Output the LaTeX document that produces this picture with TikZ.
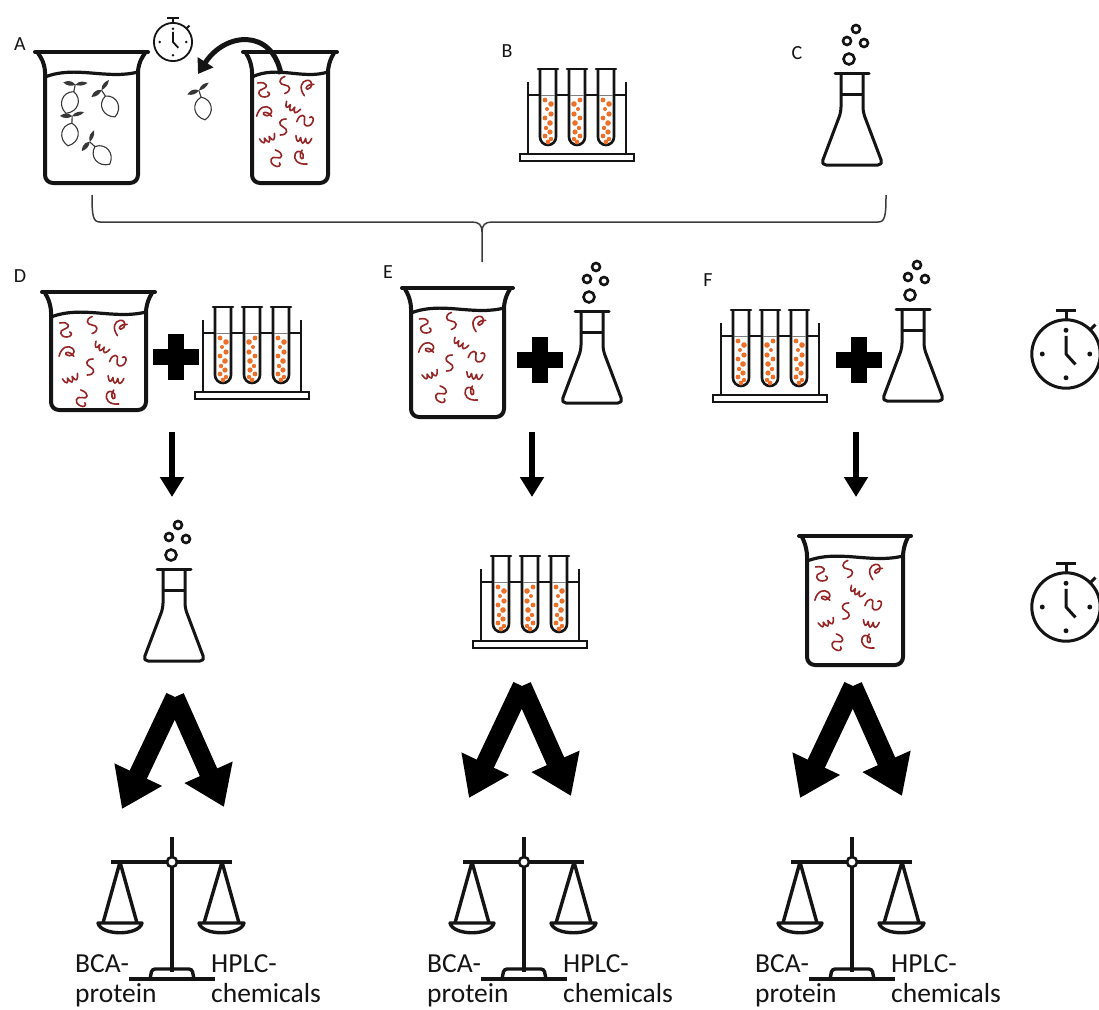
\documentclass[tikz,border=0pt]{standalone}
\usepackage{fontspec}
\setmainfont{Carlito}
\usetikzlibrary{arrows.meta}

\definecolor{ink}{RGB}{20,20,20}
\definecolor{wormred}{RGB}{150,38,38}
\definecolor{dotorange}{RGB}{236,112,40}
\definecolor{bracegray}{RGB}{60,60,60}

\tikzset{
  glass/.style={draw=ink, line width=4, line join=round},
  rackln/.style={draw=ink, line width=2.6},
  flaskln/.style={draw=ink, line width=3, line join=round},
  wormln/.style={draw=wormred, line width=1.6, line cap=round, line join=round},
  seedln/.style={draw=ink!85, line width=1.1},
  scaleln/.style={draw=ink, line width=3.4},
  brace/.style={draw=bracegray, line width=1.5},
  bigarrow/.style={draw=black, line width=19, -{Triangle[length=38, width=50]}},
  downarrow/.style={draw=black, line width=6.5, -{Triangle[length=20, width=23]}},
  lbl/.style={font=\fontsize{20}{24}\selectfont, inner sep=0pt, text=ink},
  sclbl/.style={font=\fontsize{27.5}{32}\selectfont, inner sep=0pt, text=ink, anchor=base west},
  pics/wa/.style={code={\draw[wormln] (-6,-7) .. controls (4,-9) and (5,-2) .. (-1,-1) .. controls (-7,0) and (-6,7) .. (1,7) .. controls (6,7) and (7,3) .. (4,2);}},
  pics/wb/.style={code={\draw[wormln] (-7,6) .. controls (-8,-4) and (-2,-8) .. (3,-6) .. controls (9,-3) and (4,4) .. (-1,2) .. controls (-4,0) and (2,-3) .. (7,1);}},
  pics/wc/.style={code={\draw[wormln] (-8,-2) .. controls (-6,5) and (-4,5) .. (-3,-1) .. controls (-1,6) and (1,6) .. (2,-1) .. controls (4,6) and (6,5) .. (8,-2);}},
  pics/wd/.style={code={\draw[wormln] (3,-8) .. controls (-5,-8) and (-5,-2) .. (0,0) .. controls (5,2) and (5,8) .. (-3,8);}},
  pics/seed/.style={code={
    \draw[seedln] (0,-11) .. controls (-11,-7) and (-11,7) .. (0,12) .. controls (11,7) and (11,-7) .. (0,-11);
    \draw[seedln] (0,-11) -- (-1,-18);
    \fill[ink!85] (-1,-18) .. controls (-7,-22) and (-11,-18) .. (-13,-16) .. controls (-8,-14) and (-4,-15) .. (-1,-18);
    \fill[ink!85] (-1,-18) .. controls (2,-24) and (6,-24) .. (10,-24) .. controls (7,-19) and (2,-18) .. (-1,-18);
  }}
}

% beaker: rim top-left x, rim y, rim width, wall inset, height
\newcommand\beaker[5]{%
  \begin{scope}[shift={(#1,#2)}]
    \pgfmathsetmacro\bR{#3-#4}
    \pgfmathsetmacro\wA{#4+0.33*(#3-2*#4)}
    \pgfmathsetmacro\wB{#4+0.66*(#3-2*#4)}
    \fill[white] (#4,3) rectangle (\bR,#5);
    \draw[glass, rounded corners=8] (3,1) -- (#4,12) -- (#4,#5) -- (\bR,#5) -- (\bR,12) -- (#3-3,1);
    \draw[glass, line cap=round] (0,0) -- (#3,0);
    \draw[glass, line width=3.2] (#4,25) .. controls (\wA,13) and (\wB,28) .. (\bR,20);
  \end{scope}}

% worms: wall-left x, rim y, horizontal spread factor
\newcommand\worms[3]{%
  \begin{scope}[shift={(#1,#2)}]
    \def\wf{#3}
    \pic at (15*\wf,38) {wa};
    \pic[rotate=20] at (42*\wf,33) {wd};
    \pic[rotate=30] at (71*\wf,35) {wb};
    \pic[rotate=-20] at (17*\wf,61) {wb};
    \pic[rotate=-30] at (52*\wf,55) {wc};
    \pic at (40*\wf,75) {wd};
    \pic[rotate=60] at (69*\wf,68) {wa};
    \pic[rotate=20] at (20*\wf,86) {wc};
    \pic[rotate=-10] at (66*\wf,87) {wc};
    \pic[rotate=-30] at (32*\wf,107) {wa};
    \pic[rotate=90] at (63*\wf,105) {wb};
  \end{scope}}

% test-tube rack: top-left corner
\newcommand\rack[2]{%
  \begin{scope}[shift={(#1,#2)}]
    \draw[rackln] (8,86) -- (8,14) (106,86) -- (106,14);
    \draw[rackln] (8,27) -- (106,27);
    \foreach \c/\s in {28/1,57/-1,86/1}{
      \draw[rackln, fill=white] (\c-8,1) -- (\c-8,69) arc (180:0:8) -- (\c+8,1);
      \draw[ink!55, line width=0.8] (\c-7,27) -- (\c+7,27);
      \draw[rackln, line cap=round] (\c-10,1) -- (\c+10,1);
      \foreach \dx/\dy/\rr in {-3/32/2.4, 3/36/2.8, -1/41/2.0, 3/46/2.6, -3/50/2.4, 2/55/2.8, -2/60/2.2, 2/64/2.6, -3/68/2.4, 3/71/2.2, 0/74/2.4}{
        \fill[dotorange] (\c+\s*\dx,\dy) circle (\rr);
      }
    }
    \draw[rackln, fill=white] (0,86) rectangle (114,93);
  \end{scope}}

% conical flask: neck centre x, rim y
\newcommand\flask[2]{%
  \begin{scope}[shift={(#1,#2)}]
    \draw[flaskln, rounded corners=5, fill=white] (-11,2) -- (-11,40) -- (-31,93) -- (31,93) -- (11,40) -- (11,2);
    \draw[flaskln] (-11,22) -- (11,22);
    \draw[flaskln, line cap=round] (-17,1) -- (17,1);
    \draw[ink, line width=2.6] (4,-43) circle (4) (-5,-31) circle (4) (12,-29) circle (4) (-3,-13) circle (5.5);
  \end{scope}}

% stopwatch: centre x, centre y, scale, line width
\newcommand\stopwatch[4]{%
  \begin{scope}[shift={(#1,#2)}, scale=#3]
    \draw[ink, line width=#4] (0,0) circle (36);
    \draw[ink, line width=#4] (0,-36) -- (0,-46) (-11,-46) -- (11,-46);
    \draw[ink, line width=#4] (25.5,-25.5) -- (31,-31);
    \draw[ink, line width=#4, line join=round] (0,-19) -- (0,0) -- (10,11);
    \fill[ink] (0,-25) circle (2.6) (25,0) circle (2.6) (0,25) circle (2.6) (-25,0) circle (2.6);
  \end{scope}}

\newcommand\plussign[2]{%
  \fill[black] (#1-23,#2-8) rectangle (#1+23,#2+8);
  \fill[black] (#1-8,#2-23) rectangle (#1+8,#2+23);}

% balance with its two captions: post x
\newcommand\balance[1]{%
  \begin{scope}[shift={(#1,0)}]
    \draw[scaleln] (0,837) -- (0,972);
    \draw[scaleln] (-61,862) -- (60,862);
    \draw[scaleln, line join=round] (-69,923) -- (-52,862) -- (-35,923);
    \draw[scaleln, line join=round] (32,923) -- (50,862) -- (67,923);
    \draw[scaleln, line join=round] (-74,923) -- (-30,923) .. controls (-33,936) and (-71,936) .. (-74,923) -- cycle;
    \draw[scaleln, line join=round] (27,923) -- (72,923) .. controls (69,936) and (30,936) .. (27,923) -- cycle;
    \draw[scaleln, rounded corners=3] (-22,979) -- (-20,969) -- (20,969) -- (22,979);
    \draw[scaleln] (-43,979) -- (43,979);
    \draw[ink, line width=2.6, fill=white] (0,862) circle (5);
    \node[sclbl] at (-97,972) {BCA-};
    \node[sclbl] at (-97,1002) {protein};
    \node[sclbl] at (39,972) {HPLC-};
    \node[sclbl] at (39,1002) {chemicals};
  \end{scope}}

\begin{document}
\begin{tikzpicture}[x=1pt, y=-1pt]
  \useasboundingbox[fill=white] (0,0) rectangle (1099,1009);

  % ---------- top row: A, B, C ----------
  \node[lbl] (labA) at (20,44) {A};
  \node[lbl] (labB) at (507,51) {B};
  \node[lbl] (labC) at (797,53) {C};

  \beaker{35}{52}{113}{10}{131}
  \pic[rotate=-20] at (70,102) {seed};
  \pic[rotate=25] at (110,106) {seed};
  \pic[rotate=-10] at (70,134) {seed};
  \pic[rotate=40] at (102,155) {seed};

  \beaker{243}{52}{94}{9}{131}
  \worms{252}{52}{0.78}

  \stopwatch{173}{42}{0.53}{1.8}
  \pic[rotate=10] at (203,108) {seed};
  \coordinate (arcS) at (281,74);
  \coordinate (arcE) at (198,74);
  \draw[ink, line width=5, -{Triangle[length=14, width=18]}] (arcS) .. controls (272,28) and (225,32) .. (arcE);

  \rack{520}{68}
  \flask{852}{72}

  % ---------- brace joining the three sources ----------
  \coordinate (brL) at (92,195);
  \coordinate (brR) at (886,195);
  \coordinate (brT) at (482,262);
  \draw[brace] (brL) .. controls (92,216) and (93,222) .. (100,222) -- (472,222) .. controls (479,222) and (482,225) .. (482,232) -- (brT);
  \draw[brace] (482,232) .. controls (482,225) and (485,222) .. (492,222) -- (878,222) .. controls (885,222) and (886,216) .. (brR);

  % ---------- middle row: D, E, F ----------
  \node[lbl] (labD) at (20,276) {D};
  \node[lbl] (labE) at (388,272) {E};
  \node[lbl] (labF) at (708,280) {F};

  \beaker{42}{292}{113}{9}{118}
  \worms{51}{292}{0.98}
  \plussign{176}{357}
  \rack{195}{306}

  \beaker{402}{288}{111}{9}{129}
  \worms{411}{288}{0.96}
  \plussign{540}{360}
  \flask{592}{310}

  \rack{713}{309}
  \plussign{859}{360}
  \flask{913}{308}

  \stopwatch{1066}{354}{0.95}{3}

  % ---------- thin arrows to the products ----------
  \coordinate (dD1) at (172,432); \coordinate (dD2) at (172,497);
  \coordinate (dE1) at (532,432); \coordinate (dE2) at (532,497);
  \coordinate (dF1) at (856,432); \coordinate (dF2) at (856,497);
  \draw[downarrow] (dD1) -- (dD2);
  \draw[downarrow] (dE1) -- (dE2);
  \draw[downarrow] (dF1) -- (dF2);

  % ---------- bottom row products ----------
  \flask{174}{568}
  \rack{473}{555}
  \beaker{799}{536}{112}{8}{129}
  \worms{807}{536}{0.97}
  \stopwatch{1066}{607}{0.95}{3}

  % ---------- split arrows ----------
  \foreach \ax/\ay/\nm in {175/697/D, 522/686/E, 853/686/F}{
    \coordinate (top\nm) at (\ax,\ay);
    \coordinate (left\nm) at (\ax-53,\ay+112);
    \coordinate (right\nm) at (\ax+49,\ay+110);
    \draw[bigarrow] (top\nm) -- (left\nm);
    \draw[bigarrow] (top\nm) -- (right\nm);
  }

  % ---------- balances ----------
  \balance{172}
  \balance{524}
  \balance{852}
\end{tikzpicture}
\end{document}
